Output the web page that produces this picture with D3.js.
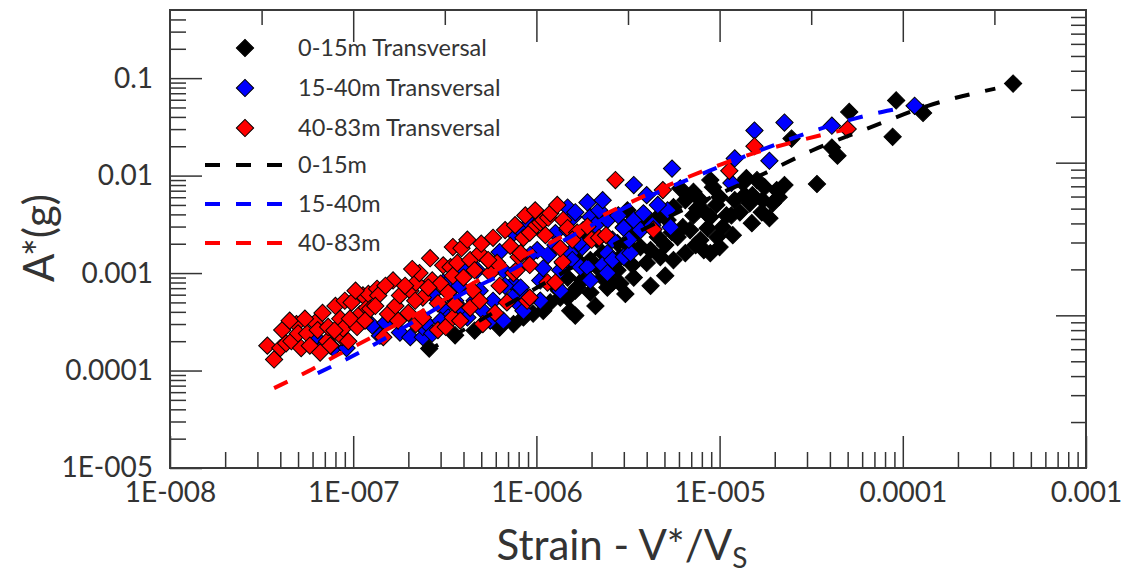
<!DOCTYPE html>
<html>
 <head>
  <meta charset="UTF-8">
  <title>Strain vs A*</title>
  <style>
    body { margin: 0; background: #fff; }
    text { font-family: Lato, "Open Sans", sans-serif; fill: #333; }
  </style>
 </head>
 <body>
<div id="viz-wrapper"></div>
 <script src="https://d3js.org/d3.v7.min.js" charset="utf-8"></script>
 <script type="text/javascript">
    // tick values and labels
    var xTickValues = [1e-8, 1e-7, 1e-6, 1e-5, 1e-4, 1e-3];
    var xTickLabels = ["1E-008", "1E-007", "1E-006", "1E-005", "0.0001", "0.001"];
    var yTickValues = [1e-5, 1e-4, 1e-3, 1e-2, 1e-1];
    var yTickLabels = ["1E-005", "0.0001", "0.001", "0.01", "0.1"];

    // series names
    var seriesNames = ["0-15m Transversal", "15-40m Transversal", "40-83m Transversal"];
    var curveNames = ["0-15m", "15-40m", "40-83m"];

    // [strain, A*]
    var pts0_15 = [
      [2.6e-7,1.68e-4],[3.6e-7,2.3e-4],[4.6e-7,2.57e-4],[6.3e-7,2.76e-4],[7.5e-7,3.0e-4],[8.5e-7,3.5e-4],
      [9.6e-7,3.84e-4],[1.09e-6,4.1e-4],[1.19e-6,5.0e-4],[1.35e-6,5.6e-4],[1.48e-6,5.6e-4],[1.33e-6,6.6e-4],
      [1.53e-6,4.1e-4],[1.48e-6,9.0e-4],[1.63e-6,6.6e-4],[1.67e-6,7.1e-4],[1.67e-6,1.36e-3],[1.78e-6,8.4e-4],
      [1.8e-6,2.76e-3],[1.9e-6,1.15e-3],[1.97e-6,6.3e-4],[1.97e-6,1.36e-3],[2.3e-6,1.6e-3],[2.3e-6,9.0e-4],
      [2.44e-6,7.1e-4],[2.6e-6,8.0e-4],[2.77e-6,2.03e-3],[2.77e-6,1.07e-3],[2.87e-6,1.46e-3],[2.87e-6,7.8e-4],
      [3.0e-6,2.96e-3],[3.14e-6,4.4e-3],[3.4e-6,9.0e-4],[3.7e-6,1.85e-3],[4.0e-6,1.27e-3],[4.2e-6,1.72e-3],
      [4.6e-6,2.34e-3],[4.6e-6,3.75e-3],[4.75e-6,1.46e-3],[5.2e-6,3.5e-3],[5.6e-6,4.74e-3],[5.6e-6,1.36e-3],
      [5.9e-6,2.34e-3],[6.1e-6,7.4e-3],[6.3e-6,2.96e-3],[6.5e-6,5.6e-3],[6.5e-6,1.6e-3],[7.2e-6,6.8e-3],
      [7.2e-6,3.9e-3],[7.55e-6,4.6e-3],[7.85e-6,2.18e-3],[7.85e-6,5.6e-3],[8.2e-6,1.72e-3],[8.6e-6,2.89e-3],
      [8.9e-6,9.0e-3],[8.9e-6,3.75e-3],[8.9e-6,1.6e-3],[9.2e-6,7.6e-3],[9.7e-6,2.34e-3],[1.0e-5,6.0e-3],
      [1.0e-5,1.85e-3],[1.04e-5,2.96e-3],[1.16e-5,3.9e-3],[1.18e-5,2.45e-3],[1.34e-5,8.4e-3],[1.4e-5,9.4e-3],
      [1.46e-5,5.2e-3],[1.5e-5,3.25e-3],[1.51e-5,6.3e-3],[1.72e-5,5.6e-3],[1.76e-5,7.6e-3],[1.95e-5,5.2e-3],
      [2.05e-5,7.1e-3],[2.1e-5,6.0e-3],[2.47e-5,2.4e-2],[3.4e-5,8.2e-3],[4.1e-5,1.94e-2],[4.4e-5,1.6e-2],
      [5.1e-5,4.5e-2],[8.8e-5,2.5e-2],[9.2e-5,5.9e-2],[1.29e-4,4.4e-2],[4.0e-4,8.8e-2],
      [1.05e-6,5.2e-4],[1.27e-6,7.4e-4],[1.44e-6,1.21e-3],[1.8e-6,1.94e-3],[2.15e-6,2.2e-3],[2.23e-6,1.07e-3],
      [2.6e-6,1.3e-3],[3.14e-6,1.94e-3],[3.34e-6,1.21e-3],[3.56e-6,2.63e-3],[3.93e-6,3.3e-3],[5.05e-6,1.94e-3],
      [5.5e-6,2.63e-3],[6.9e-6,2.76e-3],[7.4e-6,1.94e-3],[8.35e-6,4.2e-3],[9.6e-6,5.0e-3],[1.09e-5,3.9e-3],
      [1.21e-5,5.6e-3],[1.29e-5,4.2e-3],[1.37e-5,6.3e-3],[1.7e-5,4.2e-3],[1.87e-5,3.66e-3],[1.6e-5,9.0e-3],
      [2.26e-5,8.0e-3],[3.06e-6,6.1e-4],[2.1e-6,4.6e-4],[1.63e-6,3.66e-4],[4.2e-6,7.4e-4],[5.05e-6,9.4e-4]
    ];
    var pts15_40 = [
      [6.2e-8,2.2e-4],[6.8e-8,1.7e-4],[7.8e-8,1.7e-4],[9.2e-8,1.7e-4],[1.07e-7,3.3e-4],[1.27e-7,2.9e-4],
      [1.5e-7,3.1e-4],[1.8e-7,2.45e-4],[2.05e-7,2.2e-4],[2.4e-7,2.2e-4],[2.4e-7,2.8e-4],[2.5e-7,3.1e-4],
      [2.7e-7,2.4e-4],[2.7e-7,6.1e-4],[3.1e-7,8.0e-4],[3.1e-7,4.4e-4],[3.3e-7,3.5e-4],[3.4e-7,8.4e-4],
      [4.0e-7,1.07e-3],[4.0e-7,4.1e-4],[4.2e-7,3.5e-4],[4.75e-7,1.07e-3],[4.9e-7,6.6e-4],[5.1e-7,4.1e-4],
      [5.6e-7,3.25e-4],[5.8e-7,5.2e-4],[6.3e-7,1.64e-3],[6.6e-7,1.07e-3],[6.6e-7,3.25e-4],[7.5e-7,2.57e-3],
      [7.5e-7,7.8e-4],[7.4e-7,5.6e-4],[8.2e-7,2.76e-3],[8.2e-7,7.1e-4],[8.2e-7,4.6e-4],[8.5e-7,4.1e-4],
      [8.9e-7,5.6e-4],[9.2e-7,3.25e-3],[1.01e-6,1.72e-3],[1.05e-6,8.4e-4],[1.09e-6,1.12e-3],[1.27e-6,2.57e-3],
      [1.35e-6,6.6e-4],[1.4e-6,1.27e-3],[1.48e-6,4.7e-3],[1.48e-6,2.76e-3],[1.53e-6,1.6e-3],[1.57e-6,1.36e-3],
      [1.59e-6,3.75e-3],[1.63e-6,4.2e-3],[1.74e-6,1.15e-3],[1.78e-6,1.85e-3],[1.9e-6,5.3e-3],[1.9e-6,1.15e-3],
      [1.97e-6,3.75e-3],[1.97e-6,8.4e-4],[2.2e-6,4.4e-3],[2.3e-6,5.6e-3],[2.3e-6,1.21e-3],[2.44e-6,3.5e-3],
      [2.44e-6,1.6e-3],[2.44e-6,1.0e-3],[2.6e-6,1.36e-3],[2.8e-6,3.9e-3],[3.0e-6,2.9e-3],[3.0e-6,1.46e-3],
      [3.26e-6,1.6e-3],[3.4e-6,8.0e-3],[3.4e-6,3.5e-3],[3.7e-6,2.76e-3],[3.84e-6,4.1e-3],[4.0e-6,6.3e-3],
      [5.2e-6,4.4e-3],[5.4e-6,2.96e-3],[5.5e-6,1.18e-2],[1.16e-5,8.4e-3],[1.21e-5,1.5e-2],[1.55e-5,2.9e-2],
      [1.87e-5,1.42e-2],[2.26e-5,3.5e-2],[4.1e-5,3.25e-2],[1.16e-4,5.2e-2],
      [3.8e-7,7.4e-4],[4.6e-7,5.2e-4],[5.6e-7,1.3e-3],[6.75e-7,7.4e-4],[9.25e-7,1.53e-3],[1.16e-6,1.53e-3],
      [1.27e-6,1.94e-3],[1.35e-6,1.07e-3],[1.7e-6,2.03e-3],[2.1e-6,3.1e-3],[2.6e-6,2.2e-3],[3.2e-6,2.2e-3],
      [4.3e-6,3.1e-3],[4.6e-6,5.0e-3],[1.05e-6,5.2e-4],[3.0e-7,3.25e-4],[1.4e-7,2.28e-4],[3.6e-7,5.2e-4]
    ];
    var pts40_83 = [
      [3.4e-8,1.8e-4],[3.7e-8,1.3e-4],[4.0e-8,1.7e-4],[4.1e-8,2.6e-4],[4.3e-8,1.9e-4],[4.6e-8,2.0e-4],
      [4.9e-8,3.0e-4],[5.0e-8,2.4e-4],[5.2e-8,1.7e-4],[5.6e-8,2.4e-4],[5.8e-8,1.8e-4],[6.2e-8,3.1e-4],
      [6.4e-8,2.6e-4],[6.8e-8,3.9e-4],[7.2e-8,2.0e-4],[7.3e-8,2.8e-4],[7.5e-8,1.8e-4],[8.0e-8,4.6e-4],
      [8.5e-8,3.4e-4],[8.7e-8,2.2e-4],[8.8e-8,2.7e-4],[9.0e-8,5.2e-4],[9.8e-8,5.0e-4],[1.05e-7,2.8e-4],
      [1.09e-7,3.8e-4],[1.13e-7,5.9e-4],[1.19e-7,4.4e-4],[1.21e-7,6.1e-4],[1.24e-7,4.3e-4],[1.35e-7,6.9e-4],
      [1.37e-7,5.9e-4],[1.46e-7,2.2e-4],[1.55e-7,3.8e-4],[1.65e-7,8.4e-4],[1.7e-7,4.6e-4],[1.8e-7,5.9e-4],
      [2.0e-7,3.9e-4],[2.05e-7,6.6e-4],[2.2e-7,8.0e-4],[2.2e-7,3.0e-4],[2.3e-7,1.0e-3],[2.4e-7,5.6e-4],
      [2.4e-7,3.5e-4],[2.7e-7,8.4e-4],[2.9e-7,4.9e-4],[2.9e-7,2.6e-4],[3.0e-7,7.8e-4],[3.1e-7,1.2e-3],
      [3.2e-7,2.8e-4],[3.3e-7,6.3e-4],[3.4e-7,1.15e-3],[3.5e-7,1.85e-3],[3.5e-7,3.5e-4],[3.5e-7,9.4e-4],
      [3.6e-7,4.8e-4],[3.7e-7,1.27e-3],[4.0e-7,9.0e-4],[4.35e-7,1.36e-3],[4.35e-7,4.4e-4],[4.5e-7,6.6e-4],
      [4.9e-7,1.6e-3],[5.0e-7,2.0e-3],[5.1e-7,3.0e-4],[5.6e-7,1.0e-3],[5.8e-7,2.3e-3],[6.1e-7,1.27e-3],
      [6.3e-7,7.4e-4],[6.9e-7,5.0e-4],[7.2e-7,1.9e-3],[7.5e-7,1.0e-3],[7.8e-7,1.07e-3],[8.0e-7,1.46e-3],
      [8.2e-7,1.6e-3],[8.5e-7,2.3e-3],[8.9e-7,5.2e-4],[9.2e-7,2.6e-3],[9.2e-7,1.21e-3],[9.2e-7,5.6e-4],
      [1.0e-6,3.1e-3],[1.05e-6,3.3e-3],[1.09e-6,3.5e-3],[1.15e-6,8.0e-4],[1.16e-6,3.7e-3],[1.19e-6,4.1e-3],
      [1.27e-6,8.0e-4],[1.39e-6,1.3e-3],[1.4e-6,3.5e-3],[1.48e-6,2.9e-3],[1.67e-6,2.6e-3],[1.9e-6,3.0e-3],
      [2.0e-6,2.2e-3],[2.2e-6,2.3e-3],[2.4e-6,2.45e-3],[2.7e-6,9.0e-3],[4.35e-6,2.8e-3],[4.9e-6,7.1e-3],
      [1.13e-5,1.12e-2],[1.55e-5,2.0e-2],[5.0e-5,3.0e-2],
      [4.5e-8,3.25e-4],[5.45e-8,3.4e-4],[6.6e-8,1.53e-4],[7.9e-8,2.57e-4],[9.6e-8,3.4e-4],[9.4e-8,2.0e-4],
      [1.16e-7,3.25e-4],[1.32e-7,4.6e-4],[1.92e-7,7.4e-4],[2.18e-7,5.2e-4],[2.57e-7,7.1e-4],[2.63e-7,1.42e-3],
      [3.9e-7,1.8e-3],[4.2e-7,2.2e-3],[4.6e-7,1.07e-3],[5.45e-7,1.36e-3],[6.75e-7,2.76e-3],[7.65e-7,3.1e-3],
      [8.7e-7,3.9e-3],[9.85e-7,4.4e-3],[1.12e-6,2.45e-3],[1.3e-6,5.0e-3],[1.35e-6,1.8e-3],[1.57e-6,2.2e-3],
      [4.9e-7,5.2e-4],[5.95e-7,3.9e-4],[3.84e-7,3.25e-4],[1.76e-7,3.25e-4],[2.1e-7,1.1e-3],[1.5e-7,7.4e-4],
      [1.03e-7,6.6e-4]
    ];

    // dashed fit curves
    var fit0_15 = [
      [2.47e-7,1.54e-4],[8.1e-7,5.6e-4],[2.2e-6,1.63e-3],[6.1e-6,4.3e-3],[1.66e-5,1.0e-2],
      [3.2e-5,1.81e-2],[6.6e-5,3.1e-2],[1.37e-4,5.2e-2],[3.2e-4,7.8e-2]
    ];
    var fit15_40 = [
      [6.4e-8,9.4e-5],[1.09e-7,1.54e-4],[2.1e-7,3.1e-4],[3.8e-7,5.9e-4],[7.8e-7,1.15e-3],[1.5e-6,2.3e-3],
      [3.7e-6,5.6e-3],[8.9e-6,1.13e-2],[1.84e-5,1.95e-2],[3.7e-5,3.1e-2],[7.7e-5,4.5e-2],[1.17e-4,5.2e-2]
    ];
    var fit40_83 = [
      [3.7e-8,6.6e-5],[5.7e-8,9.86e-5],[8.2e-8,1.44e-4],[1.12e-7,1.95e-4],[3.0e-7,5.1e-4],[7.6e-7,1.35e-3],
      [1.16e-6,2.0e-3],[2.3e-6,3.9e-3],[4.2e-6,6.6e-3],[7.8e-6,1.08e-2],[1.47e-5,1.65e-2],[2.75e-5,2.3e-2],
      [5.0e-5,3.0e-2]
    ];

    var colors = ["#000000", "#0000ff", "#ff0000"];

    var width = 1124, height = 574;
    var plotLeft = 170, plotRight = 1086, plotTop = 10, plotBottom = 468;

    var viz = d3.select("#viz-wrapper")
                .append("svg")
                .attr("width", width)
                .attr("height", height);

    var x = d3.scaleLog().domain([1e-8, 1e-3]).range([plotLeft, plotRight]);
    var y = d3.scaleLog().domain([1e-5, 0.5]).range([plotBottom, plotTop]);
    // the right frame carries its own unlabelled 3-decade log scale
    var yRight = d3.scaleLog().domain([1, 1000]).range([plotBottom, plotTop]);

    // minor tick positions 2..9 in every decade of a domain
    function minorTicks(scale) {
      var d = scale.domain(), out = [];
      for (var e = Math.floor(Math.log10(d[0])); e < Math.ceil(Math.log10(d[1])); e++) {
        for (var m = 2; m <= 9; m++) {
          var v = m * Math.pow(10, e);
          if (v > d[0] && v < d[1]) out.push(v);
        }
      }
      return out;
    }

    function styleAxis(g) {
      g.select(".domain").remove();
      g.selectAll(".tick line").attr("stroke", "#333").attr("stroke-width", 1.5);
      g.attr("font-family", "Lato, sans-serif").attr("font-size", 28).attr("color", "#333");
    }

    // bottom axis
    viz.append("g").attr("transform", "translate(0," + plotBottom + ")")
       .call(d3.axisBottom(x).tickValues(minorTicks(x)).tickSize(-16).tickFormat(""))
       .call(styleAxis);
    viz.append("g").attr("transform", "translate(0," + plotBottom + ")")
       .call(d3.axisBottom(x).tickValues(xTickValues).tickSize(-32).tickPadding(14)
             .tickFormat(function(d, i) { return xTickLabels[i]; }))
       .call(styleAxis);

    // top axis: decades long, half decades short
    var halfDecades = xTickValues.slice(0, -1).map(function(v) { return v * Math.sqrt(10); });
    viz.append("g").attr("transform", "translate(0," + plotTop + ")")
       .call(d3.axisTop(x).tickValues(halfDecades).tickSize(-15).tickFormat(""))
       .call(styleAxis);
    viz.append("g").attr("transform", "translate(0," + plotTop + ")")
       .call(d3.axisTop(x).tickValues(xTickValues.slice(1, -1)).tickSize(-32).tickFormat(""))
       .call(styleAxis);

    // left axis
    viz.append("g").attr("transform", "translate(" + plotLeft + ",0)")
       .call(d3.axisLeft(y).tickValues(minorTicks(y)).tickSize(-16).tickFormat(""))
       .call(styleAxis);
    viz.append("g").attr("transform", "translate(" + plotLeft + ",0)")
       .call(d3.axisLeft(y).tickValues(yTickValues).tickSize(-32).tickPadding(17)
             .tickFormat(function(d, i) { return yTickLabels[i]; }))
       .call(styleAxis);

    // right axis
    viz.append("g").attr("transform", "translate(" + plotRight + ",0)")
       .call(d3.axisRight(yRight).tickValues(minorTicks(yRight)).tickSize(-15).tickFormat(""))
       .call(styleAxis);
    viz.append("g").attr("transform", "translate(" + plotRight + ",0)")
       .call(d3.axisRight(yRight).tickValues([10, 100]).tickSize(-30).tickFormat(""))
       .call(styleAxis);

    // frame
    viz.append("rect")
       .attr("x", plotLeft).attr("y", plotTop)
       .attr("width", plotRight - plotLeft).attr("height", plotBottom - plotTop)
       .attr("fill", "none").attr("stroke", "#3a3a3a").attr("stroke-width", 2);

    // diamonds
    var diamond = d3.symbol().type(d3.symbolSquare).size(150);
    [pts0_15, pts15_40, pts40_83].forEach(function(data, i) {
      viz.append("g").selectAll("path")
         .data(data)
         .enter()
         .append("path")
         .attr("d", diamond)
         .attr("transform", function(d) {
           return "translate(" + x(d[0]) + "," + y(d[1]) + ") rotate(45)";
         })
         .attr("fill", colors[i])
         .attr("stroke", "#000")
         .attr("stroke-width", 1);
    });

    // dashed curves
    var line = d3.line()
                 .x(function(d) { return x(d[0]); })
                 .y(function(d) { return y(d[1]); })
                 .curve(d3.curveMonotoneX);
    [fit0_15, fit15_40, fit40_83].forEach(function(data, i) {
      viz.append("path")
         .datum(data)
         .attr("d", line)
         .attr("fill", "none")
         .attr("stroke", colors[i])
         .attr("stroke-width", 4)
         .attr("stroke-dasharray", "15,16");
    });

    // legend
    var legend = viz.append("g");
    seriesNames.forEach(function(name, i) {
      var ly = 48 + i * 40;
      legend.append("path").attr("d", diamond)
            .attr("transform", "translate(245," + ly + ") rotate(45)")
            .attr("fill", colors[i]).attr("stroke", "#000");
      legend.append("text").attr("x", 298).attr("y", ly).attr("dy", "0.35em")
            .attr("font-size", 23.5).text(name);
    });
    curveNames.forEach(function(name, i) {
      var ly = 165 + i * 39;
      legend.append("line").attr("x1", 205).attr("x2", 283).attr("y1", ly).attr("y2", ly)
            .attr("stroke", colors[i]).attr("stroke-width", 4).attr("stroke-dasharray", "15,16");
      legend.append("text").attr("x", 298).attr("y", ly).attr("dy", "0.35em")
            .attr("font-size", 23.5).text(name);
    });

    // axis titles
    viz.append("text")
       .attr("transform", "translate(54,238) rotate(-90)")
       .attr("text-anchor", "middle")
       .attr("font-size", 42)
       .text("A*(g)");
    var xt = viz.append("text")
       .attr("x", 622).attr("y", 560)
       .attr("text-anchor", "middle")
       .attr("font-size", 42)
       .text("Strain - V*/V");
    xt.append("tspan").attr("font-size", 28).attr("dy", 8).text("S");
 </script>
 </body>
</html>
